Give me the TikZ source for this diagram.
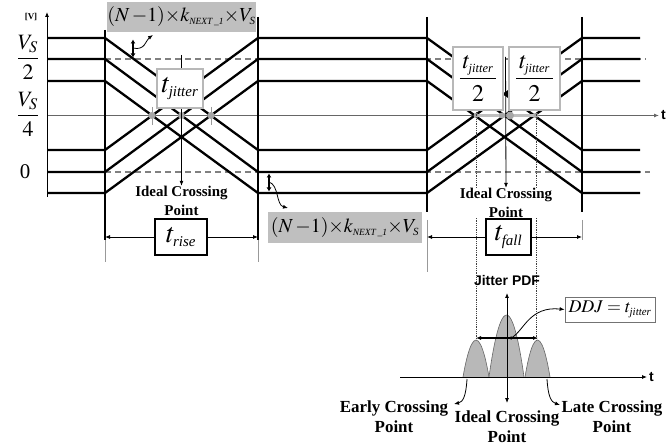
\documentclass[tikz,border=0pt]{standalone}
\usepackage{mathptmx}
\usepackage[no-math]{fontspec}
\setmainfont{Liberation Serif}
\newfontfamily\arialfam{Liberation Sans}
\usetikzlibrary{arrows.meta}
\newcommand{\fsz}[1]{\fontsize{#1}{#1}\selectfont}
\newcommand{\subit}[2]{\mbox{\fsz{#1}\itshape #2}}
\begin{document}
\begin{tikzpicture}[x=1bp,y=-1bp,
  lv/.style={line width=2.3bp, line join=round},
  vl/.style={line width=2.3bp},
  thn/.style={line width=0.8bp},
  ext/.style={line width=0.8bp, draw=black!40},
  axisln/.style={line width=0.9bp, draw=black!60},
  dsh/.style={draw=black!50, line width=1.3bp, dash pattern=on 6bp off 4bp},
  tipa/.style={-{Latex[length=5bp,width=4bp]}},
  tipb/.style={{Latex[length=5bp,width=4bp]}-{Latex[length=5bp,width=4bp]}},
  tipc/.style={line width=1.1bp, {Latex[length=4bp,width=5bp]}-{Latex[length=4bp,width=5bp]}},
  gbox/.style={fill=black!25, inner sep=0pt},
  jbox/.style={draw=black!28, line width=1.6bp, fill=white, inner sep=0pt},
  bbox/.style={draw=black, line width=1.3bp, fill=white, inner sep=0pt},
  lbl/.style={font=\bfseries\fontsize{15}{18.5}\selectfont, align=center, fill=white, inner sep=0.5bp},
  lblb/.style={font=\bfseries\fontsize{17}{20}\selectfont, align=center, inner sep=0.5bp},
  gdot/.style={circle, fill=black!35, inner sep=0pt, minimum size=7bp},
  sanslab/.style={font=\arialfam\bfseries\fsz{14}, inner sep=0pt},
]
\useasboundingbox (0,0) rectangle (668,447);

% dashed reference levels
\draw[dsh] (105,59) -- (646,59);
\draw[dsh] (105,172) -- (650,172);

% time axis
\coordinate (ta0) at (47,115.5);
\coordinate (ta1) at (659,115.5);
\draw[axisln, tipa] (ta0) -- (ta1);
\node[sanslab, anchor=west] (tlab) at (661,115.5) {t};

% voltage axis
\coordinate (va0) at (47,197);
\coordinate (va1) at (47,12);
\draw[thn, tipa] (va0) -- (va1);
\node[font=\bfseries\fsz{9}, inner sep=0pt] (vunit) at (31,17) {[V]};

% y labels
\node[font=\fsz{22}, anchor=base, inner sep=0pt] (vs2) at (28,64) {$\displaystyle\frac{V_S}{2}$};
\node[font=\fsz{22}, anchor=base, inner sep=0pt] (vs4) at (28,121) {$\displaystyle\frac{V_S}{4}$};
\node[font=\fsz{21}, inner sep=0pt] (zero) at (25,172) {0};

% waveforms
\foreach \a/\b in {38/150,59/172,81/193}{
  \draw[lv] (47,\a) -- (105,\a) -- (258,\b) -- (427,\b) -- (582,\a) -- (640,\a);
  \draw[lv] (47,\b) -- (105,\b) -- (258,\a) -- (427,\a) -- (582,\b) -- (640,\b);
}

% vertical boundaries
\draw[vl] (105,30) -- (105,240);
\draw[vl] (258,17) -- (258,240);
\draw[vl] (427,17) -- (427,212);
\draw[vl] (582,17) -- (582,212);
\draw[ext] (105,240) -- (105,262);
\draw[ext] (258,240) -- (258,262);
\draw[ext] (427,220) -- (427,272);
\draw[ext] (582,220) -- (582,240);

% ---------- rising edge region ----------
\draw[ext] (152,107) -- (152,125);
\draw[ext] (211,107) -- (211,125);
\node[gdot] (c1a) at (152,115.5) {};
\node[gdot] (c1b) at (181.5,115.5) {};
\node[gdot] (c1c) at (211,115.5) {};
\coordinate (i1top) at (181.5,55);
\node[lbl] (ideal1) at (181.5,201) {Ideal Crossing\\Point};
\draw[thn, tipa] (i1top) -- (ideal1.north);
\node[jbox, minimum width=46bp, minimum height=39bp] (jit1) at (180,88.5)
  {\fsz{28}$t_{\subit{15}{jitter}}$};

\node[gbox, minimum width=147bp, minimum height=30bp] (g1) at (181.5,17)
  {\fsz{20}$(N\,{-}1){\times}k_{\subit{9.5}{NEXT\,\_1}}{\times}V_{\subit{11}{S}}$};
\coordinate (d1a) at (133,39.5);
\coordinate (d1b) at (133,57.5);
\draw[tipc] (d1a) -- (d1b);
\coordinate (c1s) at (133,48);
\coordinate (c1e) at (153,35);
\draw[thn, tipa] (c1s) .. controls (145,51) and (146,40) .. (c1e);

\node[bbox, minimum width=52bp, minimum height=36bp] (trise) at (181,237)
  {\fsz{28}$t_{\subit{15}{rise}}$};
\coordinate (r0) at (105,237);
\coordinate (r1) at (258,237);
\draw[thn, tipa] (trise.west) -- (r0);
\draw[thn, tipa] (trise.east) -- (r1);

% ---------- middle gray box ----------
\node[gbox, minimum width=154bp, minimum height=31bp] (g2) at (345,227.5)
  {\fsz{20}$(N\,{-}1){\times}k_{\subit{9.5}{NEXT\,\_1}}{\times}V_{\subit{11}{S}}$};
\coordinate (d2a) at (269,173.5);
\coordinate (d2b) at (269,191.5);
\draw[tipc] (d2a) -- (d2b);
\coordinate (c2s) at (269,182);
\coordinate (c2e) at (288,208);
\draw[thn, tipa] (c2s) .. controls (279,185) and (276,205) .. (c2e);

% ---------- falling edge region ----------
\draw[line width=3bp, black!25] (476,115.5) -- (536,115.5);
\node[gdot, minimum size=5bp] (c2a) at (476,115.5) {};
\node[gdot, minimum size=6bp] (c2b) at (502,115.5) {};
\node[gdot, minimum size=8bp] (c2c) at (510,115.5) {};
\node[gdot, minimum size=5bp] (c2d) at (536,115.5) {};
\coordinate (dl0) at (476,110);
\coordinate (dl1) at (476,377);
\coordinate (dr0) at (536.5,110);
\coordinate (dr1) at (536.5,377);
\draw[thn, densely dotted, black!75] (dl0) -- (dl1);
\draw[thn, densely dotted, black!75] (dr0) -- (dr1);

\coordinate (i2top) at (505.5,57);
\node[lbl] (ideal2) at (506,203) {Ideal Crossing\\Point};
\draw[thn, tipa] (i2top) -- (ideal2.north);
\node[jbox, minimum width=50bp, minimum height=63bp] (jit2a) at (478,78.5)
  {\fsz{24}$\displaystyle\frac{\,t_{\subit{12.5}{jitter}}\,}{2}$};
\node[jbox, minimum width=51bp, minimum height=63bp] (jit2b) at (534.5,78.5)
  {\fsz{24}$\displaystyle\frac{\,t_{\subit{12.5}{jitter}}\,}{2}$};
\fill (506,93) rectangle (508,95.5);

\node[bbox, minimum width=45bp, minimum height=36bp] (tfall) at (508.5,237)
  {\fsz{28}$t_{\subit{15}{fall}}$};
\coordinate (f0) at (427,237);
\coordinate (f1) at (582,237);
\draw[thn, tipa] (tfall.west) -- (f0);
\draw[thn, tipa] (tfall.east) -- (f1);

% ---------- jitter PDF ----------
\filldraw[fill=black!28, draw=black!60, line width=0.6bp] (463,377) parabola bend (476,340) (489,377);
\filldraw[fill=black!28, draw=black!60, line width=0.6bp] (489,377) parabola bend (506.5,315) (524,377);
\filldraw[fill=black!28, draw=black!60, line width=0.6bp] (525,377) parabola bend (537.5,340) (550,377);

\coordinate (pa0) at (400,377);
\coordinate (pa1) at (647,377);
\draw[thn, tipa] (pa0) -- (pa1);
\node[sanslab, anchor=west] (tlab2) at (649,377) {t};
\coordinate (pv0) at (507,403);
\coordinate (pv1) at (507,293);
\draw[thn, tipb] (pv0) -- (pv1);
\node[sanslab] (pdf) at (507,281) {Jitter PDF};

\coordinate (w0) at (476,338);
\coordinate (w1) at (538,338);
\draw[line width=1.3bp, tipb] (w0) -- (w1);
\node[circle, fill=black, inner sep=0pt, minimum size=3.5bp] (wd) at (511,338) {};
\node[draw=black!55, line width=0.8bp, fill=white, inner sep=0pt, minimum width=90bp, minimum height=25bp] (ddj) at (610,309.5)
  {\fsz{18}$DDJ=t_{\subit{11}{jitter}}$};
\draw[thn, tipa] (wd) .. controls (524,330) and (530,306) .. (ddj.west);

\node[lblb] (early) at (394,417) {Early Crossing\\Point};
\node[lblb] (ideal3) at (507,427) {Ideal Crossing\\Point};
\node[lblb] (late) at (612,417) {Late Crossing\\Point};
\coordinate (e0) at (467,379);
\coordinate (l0) at (547,379);
\draw[thn, tipa] (e0) .. controls (466,396) and (463,402) .. (454,404);
\draw[thn, tipa] (l0) .. controls (548,396) and (551,402) .. (560,405);
\end{tikzpicture}
\end{document}
